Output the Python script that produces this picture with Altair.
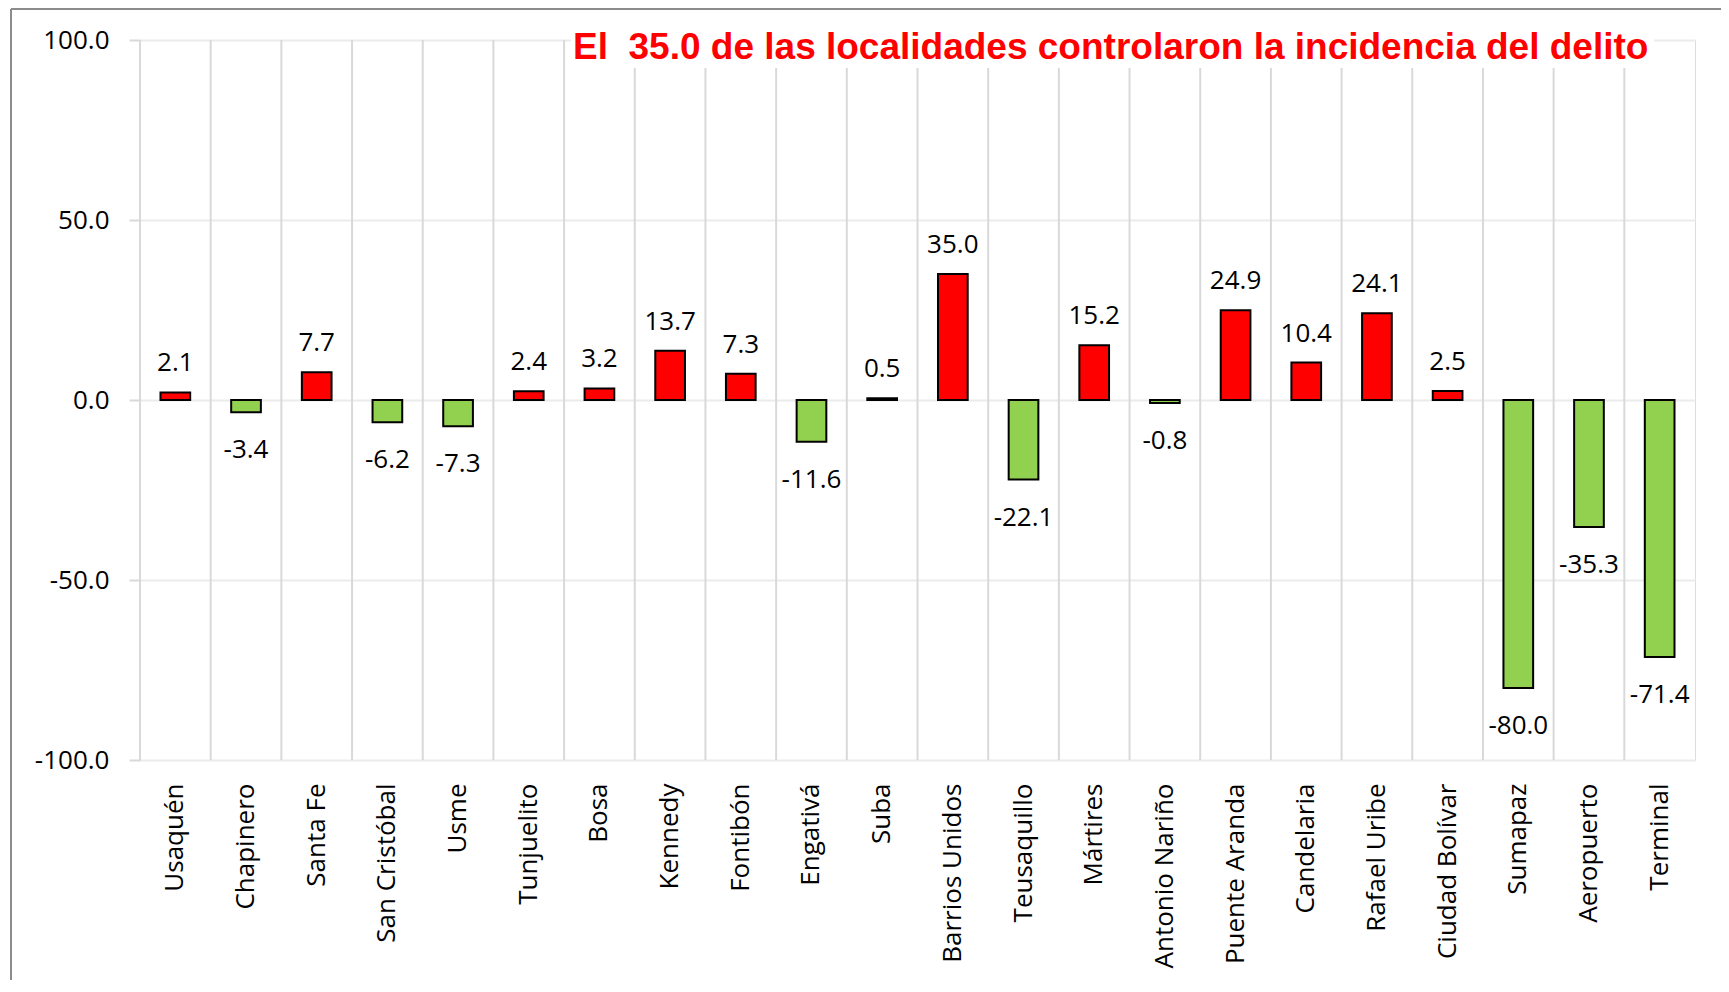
import altair as alt
import pandas as pd

localidades = [
    "Usaquén", "Chapinero", "Santa Fe", "San Cristóbal", "Usme", "Tunjuelito",
    "Bosa", "Kennedy", "Fontibón", "Engativá", "Suba", "Barrios Unidos",
    "Teusaquillo", "Mártires", "Antonio Nariño", "Puente Aranda", "Candelaria",
    "Rafael Uribe", "Ciudad Bolívar", "Sumapaz", "Aeropuerto", "Terminal",
]
valores = [
    2.1, -3.4, 7.7, -6.2, -7.3, 2.4,
    3.2, 13.7, 7.3, -11.6, 0.5, 35.0,
    -22.1, 15.2, -0.8, 24.9, 10.4,
    24.1, 2.5, -80.0, -35.3, -71.4,
]
titulo = "El\u00a0 35.0 de las localidades controlaron la incidencia del delito"
y_ticks = [-100, -50, 0, 50, 100]

df = pd.DataFrame({"localidad": localidades, "valor": valores})

FONT = "Open Sans"
FS = 26
FMT = "replace(format({v}, '.1f'), '\u2212', '-')"

x_scale = alt.Scale(paddingInner=0, paddingOuter=0)
y_scale = alt.Scale(domain=[-100, 100], nice=False)

x_enc = alt.X(
    "localidad:N", sort=localidades, title=None, scale=x_scale,
    axis=alt.Axis(
        labelAngle=-90, labelAlign="right", labelBaseline="middle",
        labelPadding=23, ticks=False, tickSize=0, domain=False, grid=False,
        labelFont=FONT, labelFontSize=FS, labelColor="black", labelLimit=500,
    ),
)
y_enc = alt.Y(
    "valor:Q", title=None, scale=y_scale,
    axis=alt.Axis(
        values=y_ticks, labelExpr=FMT.format(v="datum.value"),
        grid=True, gridColor="#ebebeb", gridWidth=2,
        ticks=True, tickSize=11, tickColor="#d9d9d9", tickWidth=2,
        domain=False, labelPadding=20, labelFont=FONT, labelFontSize=FS,
        labelColor="black",
    ),
)

base = alt.Chart(df).transform_calculate(lbl=FMT.format(v="datum.valor"))

vgrid = base.mark_rule(color="#d9d9d9", strokeWidth=2).encode(
    x=alt.X("localidad:N", sort=localidades, bandPosition=0, scale=x_scale),
    y=alt.value(0),
    y2=alt.value(720),
)

bars = base.mark_bar(
    width=alt.RelativeBandSize(0.42), stroke="black", strokeWidth=2
).encode(
    x=x_enc,
    y=y_enc,
    color=alt.condition("datum.valor > 0", alt.value("#FF0000"), alt.value("#92D050")),
)

lab_pos = base.transform_filter("datum.valor >= 0").mark_text(
    font=FONT, fontSize=FS, color="black", baseline="alphabetic", dy=-21
).encode(
    x=alt.X("localidad:N", sort=localidades, scale=x_scale),
    y=alt.Y("valor:Q", scale=y_scale),
    text="lbl:N",
)
lab_neg = base.transform_filter("datum.valor < 0").mark_text(
    font=FONT, fontSize=FS, color="black", baseline="alphabetic", dy=46
).encode(
    x=alt.X("localidad:N", sort=localidades, scale=x_scale),
    y=alt.Y("valor:Q", scale=y_scale),
    text="lbl:N",
)

title_df = pd.DataFrame({"t": [titulo]})
title_bg = alt.Chart(title_df).mark_rect(color="white").encode(
    x=alt.value(431), x2=alt.value(1514), y=alt.value(-10), y2=alt.value(28)
)
title_txt = alt.Chart(title_df).mark_text(
    align="left", baseline="alphabetic", font="Liberation Sans", fontSize=37,
    fontWeight="bold", color="#FF0000",
).encode(x=alt.value(433), y=alt.value(19), text="t:N")

frame_df = pd.DataFrame({"k": [0]})
frame_top = alt.Chart(frame_df).mark_rule(color="#8c8c8c", strokeWidth=2).encode(
    x=alt.value(-129), x2=alt.value(1600), y=alt.value(-31)
)
frame_left = alt.Chart(frame_df).mark_rule(color="#8c8c8c", strokeWidth=2).encode(
    x=alt.value(-129), y=alt.value(-31), y2=alt.value(1000)
)

chart = alt.layer(
    vgrid, bars, lab_pos, lab_neg, title_bg, title_txt, frame_top, frame_left
).properties(
    width=1555,
    height=720,
    autosize=alt.AutoSizeParams(type="none"),
    padding={"left": 132, "top": 32, "right": 26, "bottom": 220},
).configure_view(stroke="#d9d9d9", strokeWidth=2).configure(background="white")

chart.save("out.html", embed_options={"renderer": "svg", "actions": False})
